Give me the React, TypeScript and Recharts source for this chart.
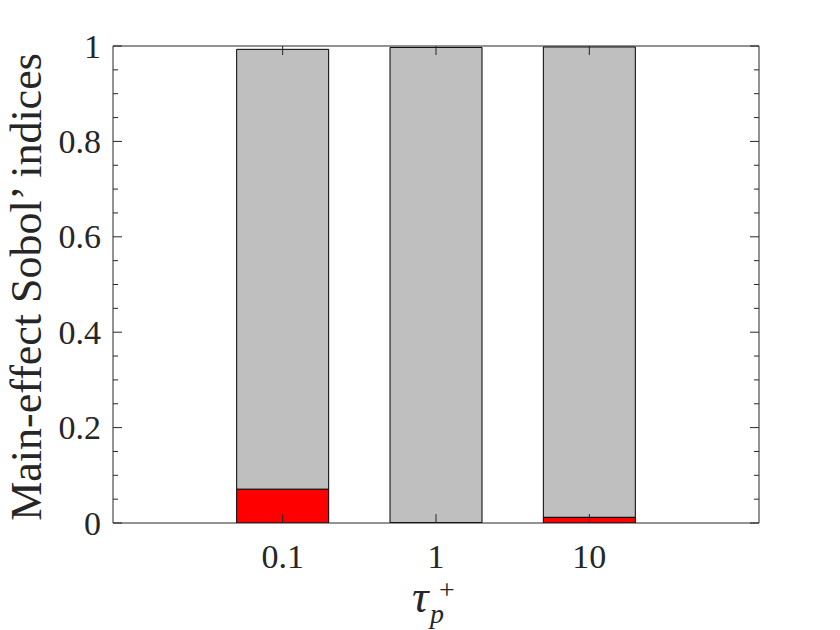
import React from "react";
import { BarChart, Bar, XAxis, YAxis } from "recharts";

// tau_p^+ values on the x axis
const categories = ["0.1", "1", "10"];
// main-effect Sobol' indices, stacked
const firstIndex = [0.071, 0.001, 0.012];
const secondIndex = [0.922, 0.996, 0.986];
const yTicks = [
  0, 0.05, 0.1, 0.15, 0.2, 0.25, 0.3, 0.35, 0.4, 0.45, 0.5, 0.55, 0.6, 0.65,
  0.7, 0.75, 0.8, 0.85, 0.9, 0.95, 1,
];

const data = categories.map((name, i) => ({
  name,
  first: firstIndex[i],
  second: secondIndex[i],
}));

const AXIS = "#262626";
const SERIF = { fontFamily: "'Liberation Serif'" };

const isMajor = (v: number) => Math.abs(v * 5 - Math.round(v * 5)) < 1e-6;

// eslint-disable-next-line @typescript-eslint/no-explicit-any
function BottomTick({ x, y, payload }: any) {
  return (
    <g>
      <line x1={x} x2={x} y1={y} y2={y - 9} stroke={AXIS} strokeWidth={1} />
      <text x={x} y={y + 45} textAnchor="middle" fontSize={34} style={SERIF} fill={AXIS}>
        {payload.value}
      </text>
    </g>
  );
}

// eslint-disable-next-line @typescript-eslint/no-explicit-any
function TopTick({ x, y }: any) {
  return <line x1={x} x2={x} y1={y} y2={y + 9} stroke={AXIS} strokeWidth={1} />;
}

// eslint-disable-next-line @typescript-eslint/no-explicit-any
function LeftTick({ x, y, payload }: any) {
  const major = isMajor(payload.value);
  return (
    <g>
      <line x1={x} x2={x + (major ? 9 : 5)} y1={y} y2={y} stroke={AXIS} strokeWidth={1} />
      {major && (
        <text x={x - 12} y={y + 11.5} textAnchor="end" fontSize={34} style={SERIF} fill={AXIS}>
          {String(Math.round(payload.value * 10) / 10)}
        </text>
      )}
    </g>
  );
}

// eslint-disable-next-line @typescript-eslint/no-explicit-any
function RightTick({ x, y, payload }: any) {
  const major = isMajor(payload.value);
  return <line x1={x} x2={x - (major ? 9 : 5)} y1={y} y2={y} stroke={AXIS} strokeWidth={1} />;
}

export default function App() {
  return (
    <div
      style={{
        position: "absolute",
        left: 0,
        top: 0,
        width: 840,
        height: 630,
        background: "#fff",
        fontFamily: "'Liberation Serif'",
      }}
    >
      <BarChart
        width={840}
        height={630}
        data={data}
        margin={{ top: 36, right: 71, bottom: 47, left: 13 }}
        barCategoryGap="20%"
      >
        <Bar
          dataKey="first"
          stackId="s"
          xAxisId="b"
          yAxisId="l"
          fill="#ff0000"
          stroke="#000"
          strokeWidth={1}
          isAnimationActive={false}
        />
        <Bar
          dataKey="second"
          stackId="s"
          xAxisId="b"
          yAxisId="l"
          fill="#bfbfbf"
          stroke="#000"
          strokeWidth={1}
          isAnimationActive={false}
        />
        <XAxis
          xAxisId="b"
          dataKey="name"
          orientation="bottom"
          height={60}
          padding={{ left: 93, right: 93 }}
          axisLine={{ stroke: AXIS, strokeWidth: 1 }}
          tickLine={false}
          tickSize={0}
          tickMargin={0}
          tick={<BottomTick />}
          interval={0}
        />
        <XAxis
          xAxisId="t"
          dataKey="name"
          orientation="top"
          height={10}
          padding={{ left: 93, right: 93 }}
          axisLine={{ stroke: AXIS, strokeWidth: 1 }}
          tickLine={false}
          tickSize={0}
          tickMargin={0}
          tick={<TopTick />}
          interval={0}
        />
        <YAxis
          yAxisId="l"
          orientation="left"
          width={100}
          type="number"
          domain={[0, 1]}
          ticks={yTicks}
          interval={0}
          allowDataOverflow
          axisLine={{ stroke: AXIS, strokeWidth: 1 }}
          tickLine={false}
          tickSize={0}
          tickMargin={0}
          tick={<LeftTick />}
        />
        <YAxis
          yAxisId="r"
          orientation="right"
          width={10}
          type="number"
          domain={[0, 1]}
          ticks={yTicks}
          interval={0}
          allowDataOverflow
          axisLine={{ stroke: AXIS, strokeWidth: 1 }}
          tickLine={false}
          tickSize={0}
          tickMargin={0}
          tick={<RightTick />}
        />
        <text
          x={41}
          y={287}
          transform="rotate(-90 41 287)"
          textAnchor="middle"
          fontSize={44}
          style={SERIF}
          fill={AXIS}
        >
          Main-effect Sobol’ indices
        </text>
        <text x={412} y={612} fontSize={46} fontStyle="italic" style={SERIF} fill={AXIS}>
          τ
        </text>
        <text x={430} y={623} fontSize={28} fontStyle="italic" style={SERIF} fill={AXIS}>
          p
        </text>
        <text x={439} y={599} fontSize={28} style={SERIF} fill={AXIS}>
          +
        </text>
      </BarChart>
    </div>
  );
}
